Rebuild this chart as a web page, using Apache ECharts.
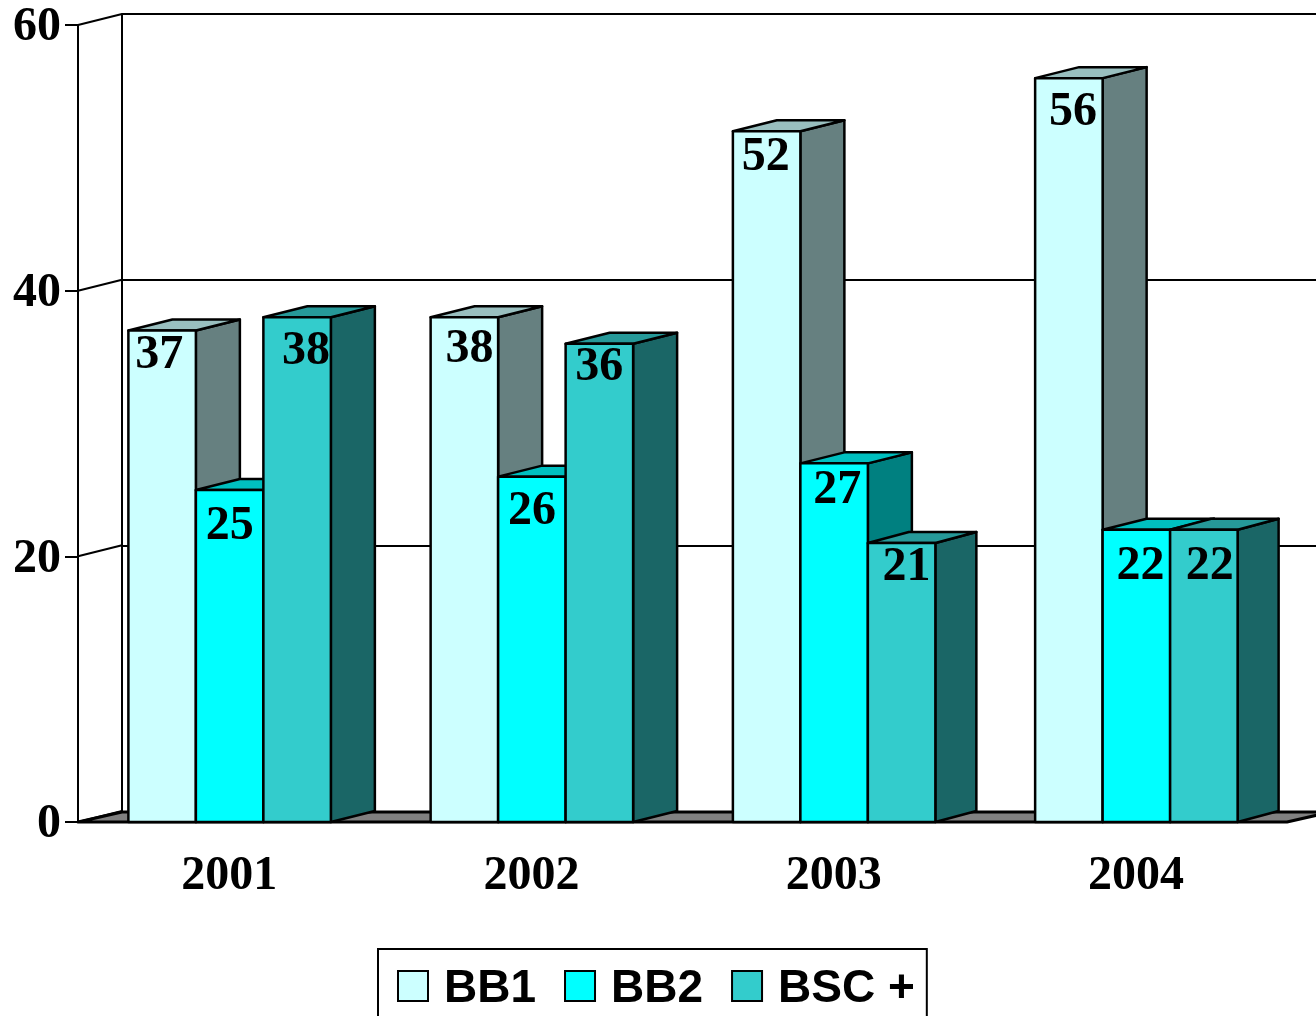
<!DOCTYPE html>
<html>
<head>
<meta charset="utf-8">
<style>
  html, body { margin: 0; padding: 0; background: #fff; overflow: hidden; }
  #chart { width: 1316px; height: 1016px; }
</style>
</head>
<body>
<div id="chart"></div>
<script src="https://cdn.jsdelivr.net/npm/echarts@6/dist/echarts.min.js"></script>
<script>
const categories = ["2001", "2002", "2003", "2004"];
const bb1 = [37, 38, 52, 56];
const bb2 = [25, 26, 27, 22];
const bsc = [38, 36, 21, 22];
const yTicks = [0, 20, 40, 60];

// fake 3d: depth of the boxes and of the walls, px
const DEPTH_X = 44;
const DEPTH_Y = 11;
const BAR_RATIO = 0.2233;

// front, top, side colours per series
const faces = [
  ["#CCFFFF", "#99BFBF", "#668080"],
  ["#00FFFF", "#00BFBF", "#008080"],
  ["#33CCCC", "#269999", "#1A6666"]
];

// hand placed value labels [dx from bar centre, dy from bar top]
const labelNudge = [
  [[-3, 25], [5, 32], [-1, 26], [4, 34]],
  [[0, 37], [0, 35], [3, 27], [4, 37]],
  [[9, 34], [0, 24], [5, 25], [6, 37]]
];

function face(points, fill, lineWidth) {
  return {
    type: "polygon",
    shape: { points: points },
    style: { fill: fill, stroke: "#000", lineWidth: lineWidth || 2.5, lineJoin: "round" }
  };
}

function renderBar(s) {
  return function(params, api) {
    let cat = api.value(0),
      val = api.value(1),
      top = api.coord([cat, val]),
      base = api.coord([cat, 0]),
      w = api.size([1, 0])[0] * BAR_RATIO,
      x0 = top[0] + (s - 1.5) * w + 0.5,
      x1 = x0 + w,
      // the right hand boxes of the last two groups are a bit shallower
      dx = s === 2 && cat >= 2 ? 41 : DEPTH_X,
      nudge = labelNudge[s][cat];

    return {
      type: "group",
      children: [
        face([[x1, top[1]], [x1 + dx, top[1] - DEPTH_Y], [x1 + dx, base[1] - DEPTH_Y], [x1, base[1]]], faces[s][2]),
        face([[x0, top[1]], [x0 + dx, top[1] - DEPTH_Y], [x1 + dx, top[1] - DEPTH_Y], [x1, top[1]]], faces[s][1]),
        face([[x0, top[1]], [x1, top[1]], [x1, base[1]], [x0, base[1]]], faces[s][0]),
        {
          type: "text",
          z2: 100,
          style: {
            x: (x0 + x1) / 2 + nudge[0],
            y: top[1] + nudge[1],
            text: String(val),
            fill: "#000",
            font: "bold 48px 'Liberation Serif'",
            align: "center",
            verticalAlign: "middle"
          }
        }
      ]
    };
  };
}

function barSeries(name, values, s) {
  return {
    name: name,
    type: "custom",
    xAxisIndex: 0,
    yAxisIndex: 0,
    clip: false,
    itemStyle: { color: faces[s][0] },
    data: values.map((v, i) => [i, v]),
    renderItem: renderBar(s)
  };
}

const axisFont = {
  color: "#000",
  fontFamily: "Liberation Serif",
  fontWeight: "bold",
  fontSize: 48
};
const axisStroke = { color: "#000", width: 2 };

let myChart = echarts.init(document.getElementById("chart"));
myChart.setOption({
  animation: false,
  backgroundColor: "#fff",
  // front plane holds ticks and labels, back plane holds the wall lines
  grid: [
    { left: 78, top: 25, width: 1209, height: 797 },
    { left: 78 + DEPTH_X, top: 14, width: 1209, height: 798 }
  ],
  xAxis: [
    {
      type: "category",
      gridIndex: 0,
      data: categories,
      axisLine: { lineStyle: axisStroke },
      axisTick: { length: 12, lineStyle: axisStroke },
      axisLabel: Object.assign({ margin: 31 }, axisFont)
    },
    { type: "category", gridIndex: 1, data: categories, show: false }
  ],
  yAxis: [
    {
      type: "value",
      gridIndex: 0,
      min: 0,
      max: 60,
      interval: 20,
      axisLine: { show: true, lineStyle: axisStroke },
      axisTick: { show: true, length: 13, lineStyle: axisStroke },
      axisLabel: Object.assign({ margin: 17, verticalAlign: "top", padding: [-21, 0, 0, 0] }, axisFont),
      splitLine: { show: false }
    },
    {
      type: "value",
      gridIndex: 1,
      min: 0,
      max: 60,
      interval: 20,
      axisLine: { show: true, lineStyle: axisStroke },
      axisTick: { show: false },
      axisLabel: { show: false },
      splitLine: { show: true, lineStyle: axisStroke }
    }
  ],
  legend: {
    left: 378,
    top: 949,
    orient: "horizontal",
    icon: "rect",
    itemWidth: 30,
    itemHeight: 30,
    itemGap: 28,
    selectedMode: false,
    padding: [17, 12, 40, 19],
    borderColor: "#000",
    borderWidth: 2,
    itemStyle: { borderColor: "#000", borderWidth: 2 },
    formatter: "{t|{name}}",
    textStyle: {
      rich: {
        t: {
          color: "#000",
          fontFamily: "Liberation Sans",
          fontWeight: "bold",
          fontSize: 46,
          padding: [6, 0, 0, 11]
        }
      }
    },
    data: ["BB1", "BB2", "BSC +"]
  },
  series: [
    {
      // grey floor
      type: "custom",
      silent: true,
      clip: false,
      data: [[0, 0]],
      renderItem: function(params, api) {
        let a = api.coord([0, 0]),
          w = api.size([1, 0])[0] * categories.length;
        a[0] -= api.size([1, 0])[0] / 2;
        return face([
          a,
          [a[0] + DEPTH_X, a[1] - DEPTH_Y + 1],
          [a[0] + w + DEPTH_X, a[1] - DEPTH_Y + 1],
          [a[0] + w, a[1]]
        ], "#808080", 3);
      }
    },
    {
      // slanted lines from the front ticks back to the wall
      type: "custom",
      silent: true,
      clip: false,
      data: yTicks.map(v => [0, v]),
      renderItem: function(params, api) {
        let a = api.coord([0, api.value(1)]);
        a[0] -= api.size([1, 0])[0] / 2;
        return {
          type: "line",
          shape: { x1: a[0], y1: a[1], x2: a[0] + DEPTH_X, y2: a[1] - DEPTH_Y },
          style: { stroke: "#000", lineWidth: 2 }
        };
      }
    },
    barSeries("BB1", bb1, 0),
    barSeries("BB2", bb2, 1),
    barSeries("BSC +", bsc, 2)
  ]
});
</script>
</body>
</html>
